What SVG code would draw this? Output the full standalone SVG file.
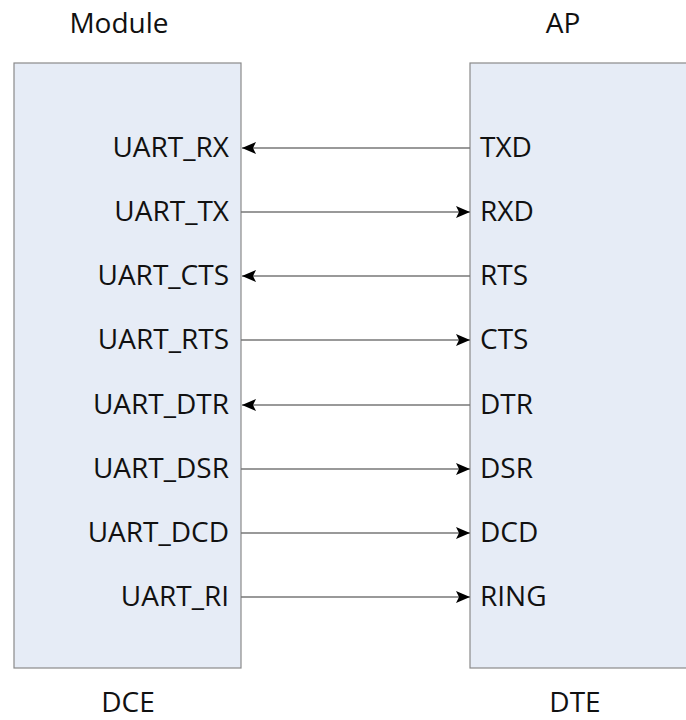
<svg xmlns="http://www.w3.org/2000/svg" width="686" height="720" viewBox="0 0 686 720">
<defs>
<style>
.box{fill:#e6ecf6;stroke:#8a8a8a;stroke-width:1.2}
.t{font-family:"Open Sans","Noto Sans","DejaVu Sans",sans-serif;font-size:28px;fill:#111}
.l{text-anchor:end}
.c{text-anchor:middle}
.w{stroke:#777;stroke-width:1.3;fill:none}
</style>
<marker id="ah" viewBox="0 0 14 12" refX="14" refY="6" markerWidth="14" markerHeight="12" markerUnits="userSpaceOnUse" orient="auto">
<path d="M0,0 L14,6 L0,12 L3,6 Z" fill="#000"/>
</marker>
</defs>
<rect width="686" height="720" fill="#fff"/>
<g id="module">
<rect class="box" x="14" y="63" width="227" height="605"/>
<text class="t c" x="119" y="33">Module</text>
<text class="t c" x="128" y="712">DCE</text>
<text class="t l" x="229" y="157">UART_RX</text>
<text class="t l" x="229" y="221">UART_TX</text>
<text class="t l" x="229" y="285">UART_CTS</text>
<text class="t l" x="229" y="349">UART_RTS</text>
<text class="t l" x="229" y="414">UART_DTR</text>
<text class="t l" x="229" y="478">UART_DSR</text>
<text class="t l" x="229" y="542">UART_DCD</text>
<text class="t l" x="229" y="606">UART_RI</text>
</g>
<g id="ap">
<rect class="box" x="470" y="63" width="230" height="605"/>
<text class="t c" x="563" y="33">AP</text>
<text class="t c" x="575" y="712">DTE</text>
<text class="t" x="480" y="157">TXD</text>
<text class="t" x="480" y="221">RXD</text>
<text class="t" x="480" y="285">RTS</text>
<text class="t" x="480" y="349">CTS</text>
<text class="t" x="480" y="414">DTR</text>
<text class="t" x="480" y="478">DSR</text>
<text class="t" x="480" y="542">DCD</text>
<text class="t" x="480" y="606">RING</text>
</g>
<g id="connectors">
<path class="w" d="M470,148 H242" marker-end="url(#ah)"/>
<path class="w" d="M241,212 H470" marker-end="url(#ah)"/>
<path class="w" d="M470,276 H242" marker-end="url(#ah)"/>
<path class="w" d="M241,340 H470" marker-end="url(#ah)"/>
<path class="w" d="M470,405 H242" marker-end="url(#ah)"/>
<path class="w" d="M241,469 H470" marker-end="url(#ah)"/>
<path class="w" d="M241,533 H470" marker-end="url(#ah)"/>
<path class="w" d="M241,597 H470" marker-end="url(#ah)"/>
</g>
</svg>
